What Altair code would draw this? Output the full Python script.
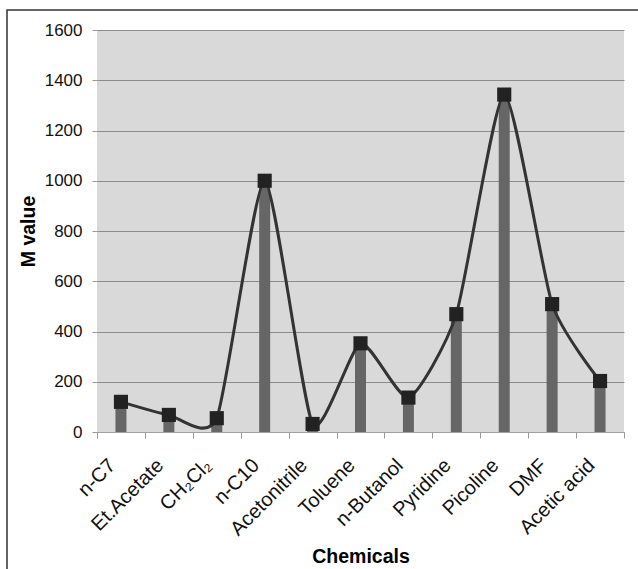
import altair as alt
import pandas as pd

# Solvents tested and their M values
chemicals = ["n-C7", "Et.Acetate", "CH₂Cl₂", "n-C10", "Acetonitrile", "Toluene",
             "n-Butanol", "Pyridine", "Picoline", "DMF", "Acetic acid"]
m_values = [120, 68, 55, 1000, 32, 353, 137, 469, 1343, 509, 203]
y_ticks = [0, 200, 400, 600, 800, 1000, 1200, 1400, 1600]

FONT = "Liberation Sans, Arial, Helvetica, sans-serif"
PLOT_W, PLOT_H = 527, 402

df = pd.DataFrame({"Chemical": chemicals, "M": m_values})

x_enc = alt.X(
    "Chemical:N",
    sort=chemicals,
    title="Chemicals",
    scale=alt.Scale(paddingInner=0, paddingOuter=0),
    axis=alt.Axis(
        labelAngle=-45, labelAlign="right", labelBaseline="middle",
        labelFontSize=20, labelFont=FONT, labelColor="#111",
        labelPadding=24, labelOffset=-9,
        tickBand="extent", tickSize=6, tickColor="#999", tickWidth=1,
        domainColor="#a0a0a0", domainWidth=1, grid=False,
        titleFont=FONT, titleFontSize=19.5, titleFontWeight="bold",
        titleColor="#000", titleY=130, titleBaseline="alphabetic",
    ),
)
y_enc = alt.Y(
    "M:Q",
    title="M value",
    scale=alt.Scale(domain=[0, 1600], nice=False),
    axis=alt.Axis(
        values=y_ticks, format="d", domain=False, grid=True,
        gridColor="#8c8c8c", gridWidth=1, tickSize=5, tickColor="#999",
        labelFontSize=17, labelFont=FONT, labelColor="#111", labelPadding=10,
        titleFont=FONT, titleFontSize=19.5, titleFontWeight="bold",
        titleColor="#000", titleX=-69, titleY=PLOT_H / 2,
        titleAlign="center", titleBaseline="middle", titleAngle=270,
    ),
)

base = alt.Chart(df).encode(x=x_enc, y=y_enc)

bars = base.mark_bar(size=11, color="#666666")
curve = base.mark_line(interpolate="cardinal", tension=0.4,
                       color="#333333", strokeWidth=3)
markers = base.mark_square(size=200, color="#222222", opacity=1)

frame = alt.Chart(pd.DataFrame({"k": [0]})).mark_rect(
    fill=None, stroke="#333333", strokeWidth=1.5, clip=False
).encode(
    x=alt.value(-90), x2=alt.value(PLOT_W + 30),
    y=alt.value(-20), y2=alt.value(PLOT_H + 160),
)

chart = alt.layer(bars, curve, markers, frame).properties(
    width=PLOT_W, height=PLOT_H,
    autosize=alt.AutoSizeParams(type="none"),
    padding={"left": 97, "top": 30, "right": 14, "bottom": 137},
    background="white",
).configure_view(fill="#d9d9d9", strokeWidth=0)

chart.save("out.html", embed_options={"renderer": "svg", "actions": False})
